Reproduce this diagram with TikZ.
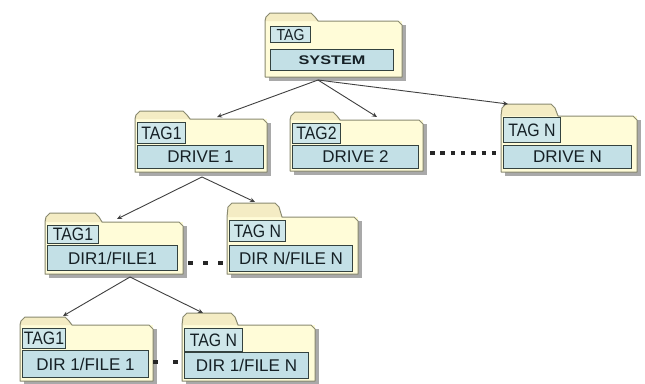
\documentclass[tikz,border=0pt]{standalone}
\usepackage{fontspec}
\setmainfont{Liberation Sans}
\newfontfamily\widefont[FakeStretch=1.3]{Liberation Sans}
\newfontfamily\narrowfont[FakeStretch=0.88]{Liberation Sans}
\usetikzlibrary{arrows.meta}

\definecolor{folderfill}{HTML}{FFFCD8}
\definecolor{tabfill}{HTML}{F4ECC4}
\definecolor{folderline}{HTML}{8A8A70}
\definecolor{boxline}{HTML}{34423F}
\definecolor{tagfill}{HTML}{CFE7EA}
\definecolor{barfill}{HTML}{C3E0E6}
\definecolor{shadowgray}{HTML}{A9A9A9}
\definecolor{linkgray}{HTML}{404040}
\definecolor{labeltext}{HTML}{152025}

\tikzset{
  folder/.style={draw=folderline,line width=1pt,line join=round},
  tagbox/.style={draw=boxline,fill=tagfill,line width=1pt,inner sep=0pt,anchor=north west,text=labeltext,font=\narrowfont\fontsize{18}{18}\selectfont},
  barbox/.style={draw=boxline,fill=barfill,line width=1pt,inner sep=0pt,anchor=north west,text=labeltext,font=\fontsize{17}{17}\selectfont},
  link/.style={draw=linkgray,line width=.9pt,-{Stealth[length=5pt,width=4.5pt]}},
  dotrow/.style={draw=black!85,line width=4.5pt}
}

% left, body top, right, bottom, tab right, tab top
\newcommand\folder[6]{%
  \fill[shadowgray] (#1+4,#2+4) rectangle (#3+4,#4+4);
  \fill[folderfill] (#1,#2) rectangle (#3,#4);
  \fill[tabfill] (#1,#2) -- (#1+1,#6+4) -- (#1+5,#6) -- (#5-7,#6) -- (#5-3,#6+4) -- (#5,#2) -- cycle;
  \draw[folder] (#1,#4) -- (#1,#2) -- (#1+1,#6+4) -- (#1+5,#6) -- (#5-7,#6) -- (#5-3,#6+4) -- (#5,#2) -- (#3-4,#2) -- (#3,#2+4) -- (#3,#4) -- cycle;
}

\begin{document}
\begin{tikzpicture}[x=1pt,y=-1pt]
\useasboundingbox (0,0) rectangle (645,383);
\fill[white] (0,0) rectangle (645,383);

% top level
\folder{265}{21}{402}{77}{318}{13}
\node[tagbox,minimum width=40,minimum height=16,font=\narrowfont\fontsize{16}{16}\selectfont] (systag) at (270,26) {TAG};
\node[barbox,minimum width=123,minimum height=21,font=\widefont\bfseries\fontsize{12.5}{13}\selectfont] (sys) at (270,49) {SYSTEM};

% drives
\folder{135}{119}{267}{172}{190}{111}
\node[tagbox,minimum width=48,minimum height=21] (drive1tag) at (137,122) {TAG1};
\node[barbox,minimum width=126,minimum height=23] (drive1) at (137,145) {DRIVE 1};
\folder{290}{120}{423}{171}{340}{112}
\node[tagbox,minimum width=48,minimum height=20] (drive2tag) at (292,123) {TAG2};
\node[barbox,minimum width=126,minimum height=23] (drive2) at (292,145) {DRIVE 2};
\folder{501}{116}{637}{172}{558}{104}
\node[tagbox,minimum width=57,minimum height=25] (driventag) at (503,117) {TAG N};
\node[barbox,minimum width=128,minimum height=23] (driven) at (503,145) {DRIVE N};
\draw[dotrow,dash pattern=on 4.5pt off 5.8pt] (430,153) -- (496,153);

% directories
\folder{45}{222}{183}{274}{102}{213}
\node[tagbox,minimum width=51,minimum height=18] (dir1tag) at (47,225) {TAG1};
\node[barbox,minimum width=130,minimum height=25] (dir1) at (47,245) {DIR1/FILE1};
\folder{227}{217}{358}{274}{282}{203}
\node[tagbox,minimum width=56,minimum height=21] (dirntag) at (229,220) {TAG N};
\node[barbox,minimum width=123,minimum height=26] (dirn) at (229,245) {DIR N/FILE N};
\draw[dotrow,dash pattern=on 5pt off 10pt] (188,263) -- (225,263);

% files
\folder{20}{325}{153}{381}{72}{317}
\node[tagbox,minimum width=43,minimum height=20] (file1tag) at (22,328) {TAG1};
\node[barbox,minimum width=126,minimum height=27] (file1) at (22,350) {DIR 1/FILE 1};
\folder{182}{325}{315}{381}{238}{313}
\node[tagbox,minimum width=58,minimum height=23] (filentag) at (184,328) {TAG N};
\node[barbox,minimum width=124,minimum height=26] (filen) at (184,352) {DIR 1/FILE N};
\draw[dotrow,dash pattern=on 4.5pt off 15.5pt] (153,362) -- (178,362);

% connectors
\coordinate (sysout) at (318,80);
\coordinate (drive1in) at (217,117);
\coordinate (drive2in) at (377,117);
\coordinate (drivenin) at (508,104);
\coordinate (drive1out) at (202,177);
\coordinate (dir1in) at (117,219);
\coordinate (dirnin) at (255,202);
\coordinate (dir1out) at (130,277);
\coordinate (file1in) at (63,316);
\coordinate (filenin) at (203,313);
\draw[link] (sysout) -- (drive1in);
\draw[link] (sysout) -- (drive2in);
\draw[link] (sysout) -- (drivenin);
\draw[link] (drive1out) -- (dir1in);
\draw[link] (drive1out) -- (dirnin);
\draw[link] (dir1out) -- (file1in);
\draw[link] (dir1out) -- (filenin);
\end{tikzpicture}
\end{document}
